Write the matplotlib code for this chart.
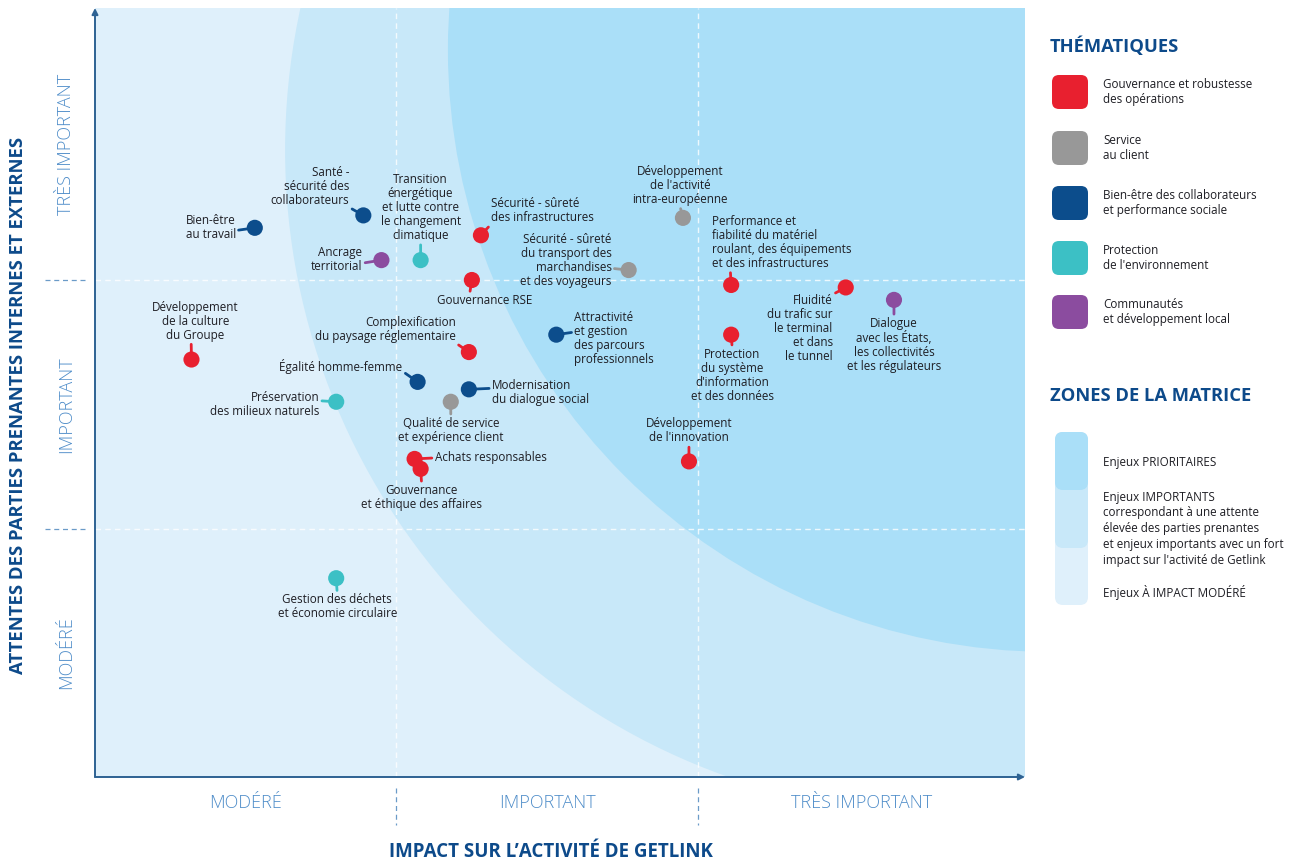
import matplotlib
matplotlib.use('Agg')
import matplotlib.pyplot as plt
from matplotlib.patches import Ellipse, FancyBboxPatch

plt.rcParams['font.family'] = ['Open Sans', 'DejaVu Sans']

# --- data -------------------------------------------------------------
themes = ['Gouvernance et robustesse\ndes opérations',
          'Service\nau client',
          'Bien-être des collaborateurs\net performance sociale',
          'Protection\nde l\'environnement',
          'Communautés\net développement local']
theme_colors = ['#e8202f', '#989898', '#0c4d8c', '#3cc0c5', '#8b4c9f']

enjeux = ['Bien-être\nau travail',
          'Santé -\nsécurité des\ncollaborateurs',
          'Transition\nénergétique\net lutte contre\nle changement\nclimatique',
          'Ancrage\nterritorial',
          'Sécurité - sûreté\ndes infrastructures',
          'Gouvernance RSE',
          'Développement\nde l\'activité\nintra-européenne',
          'Sécurité - sûreté\ndu transport des\nmarchandises\net des voyageurs',
          'Performance et\nfiabilité du matériel\nroulant, des équipements\net des infrastructures',
          'Fluidité\ndu trafic sur\nle terminal\net dans\nle tunnel',
          'Dialogue\navec les États,\nles collectivités\net les régulateurs',
          'Développement\nde la culture\ndu Groupe',
          'Complexification\ndu paysage réglementaire',
          'Attractivité\net gestion\ndes parcours\nprofessionnels',
          'Protection\ndu système\nd\'information\net des données',
          'Égalité homme-femme',
          'Modernisation\ndu dialogue social',
          'Qualité de service\net expérience client',
          'Préservation\ndes milieux naturels',
          'Achats responsables',
          'Gouvernance\net éthique des affaires',
          'Développement\nde l\'innovation',
          'Gestion des déchets\net économie circulaire']
theme_idx = [2, 2, 3, 4, 0, 0, 1, 1, 0, 0, 4, 0, 0, 2, 0, 2, 2, 1, 3, 0, 0, 0, 3]
impact = [0.53, 0.89, 1.08, 0.95, 1.28, 1.25, 1.95, 1.77, 2.11, 2.49, 2.65,
          0.32, 1.24, 1.53, 2.11, 1.07, 1.24, 1.18, 0.80, 1.06, 1.08, 1.97, 0.80]
attentes = [2.21, 2.26, 2.08, 2.08, 2.18, 2.00, 2.25, 2.04, 1.98, 1.97, 1.92,
            1.68, 1.71, 1.78, 1.78, 1.59, 1.56, 1.51, 1.51, 1.28, 1.24, 1.27, 0.80]

levels = ['MODÉRÉ', 'IMPORTANT', 'TRÈS IMPORTANT']
zones = ['Enjeux PRIORITAIRES', 'Enjeux IMPORTANTS', 'Enjeux À IMPACT MODÉRÉ']
zone_note = ('correspondant à une attente\nélevée des parties prenantes\n'
             'et enjeux importants avec un fort\nimpact sur l\'activité de Getlink')

# label placement: dx, dy (pixels), ha, va, leader anchor on text box
label_pos = [(-19, 0, 'right', 'center', (1, 0.4)),
             (-14, 8, 'right', 'bottom', (1, 0)),
             (0, 18, 'center', 'bottom', (0.5, 0)),
             (-19, 1, 'right', 'center', (1, 0.35)),
             (10, 11, 'left', 'bottom', (0, 0)),
             (13, -14, 'center', 'top', (0.34, 1)),
             (-3, 12, 'center', 'bottom', (0.5, 0)),
             (-17, 10, 'right', 'center', (1, 0.35)),
             (-19, 15, 'left', 'bottom', (0.13, 0)),
             (-13, -7, 'right', 'top', (1, 1)),
             (0, -17, 'center', 'top', (0.5, 1)),
             (4, 18, 'center', 'bottom', (0.45, 0)),
             (-13, 9, 'right', 'bottom', (1, 0)),
             (18, -4, 'left', 'center', (0, 0.62)),
             (1, -13, 'center', 'top', (0.5, 1)),
             (-15, 15, 'right', 'center', (1, 0.2)),
             (23, -3, 'left', 'center', (0, 0.65)),
             (0, -15, 'center', 'top', (0.5, 1)),
             (-17, -3, 'right', 'center', (1, 0.65)),
             (20, 1, 'left', 'center', (0, 0.5)),
             (1, -15, 'center', 'top', (0.5, 1)),
             (0, 17, 'center', 'bottom', (0.5, 0)),
             (1, -15, 'center', 'top', (0.5, 1))]

# --- figure -----------------------------------------------------------
W, H = 1296, 863
fig = plt.figure(figsize=(W / 100, H / 100), dpi=100)
fig.patch.set_facecolor('white')
ax = fig.add_axes([95 / W, 1 - 777 / H, 930 / W, 769 / H])
xmax, ymax = 930 / 301.5, 769 / 248.5
ax.set_xlim(0, xmax)
ax.set_ylim(0, ymax)
ax.set_facecolor('#dff0fb')
for s in ax.spines.values():
    s.set_visible(False)
ax.set_xticks([])
ax.set_yticks([])

# matrix zones
ax.add_patch(Ellipse((2.836, 2.523), 4.411, 5.352, color='#c8e8f9', lw=0, zorder=0.5))
ax.add_patch(Ellipse((3.167, 2.926), 3.993, 4.845, color='#aadff8', lw=0, zorder=0.6))

for v in (1, 2):
    ax.axvline(v, color='white', lw=1, ls=(0, (4, 3)), alpha=0.8, zorder=1)
    ax.axhline(v, color='white', lw=1, ls=(0, (4, 3)), alpha=0.8, zorder=1)

# axes arrows
arrow = dict(arrowstyle='-|>', color='#2e6293', lw=1.4, mutation_scale=9, shrinkA=0, shrinkB=0)
ax.annotate('', xy=(0, 1), xytext=(0, 0), xycoords='axes fraction', arrowprops=arrow, annotation_clip=False)
ax.annotate('', xy=(1, 0), xytext=(0, 0), xycoords='axes fraction', arrowprops=arrow, annotation_clip=False)

# points and labels
cols = [theme_colors[i] for i in theme_idx]
ax.scatter(impact, attentes, s=135, c=cols, lw=0, zorder=5)
for name, x, y, c, (dx, dy, ha, va, rp) in zip(enjeux, impact, attentes, cols, label_pos):
    ax.annotate(name, xy=(x, y), xytext=(dx, dy), textcoords='offset pixels',
                ha=ha, va=va, fontsize=8.4, color='#1e1e24', linespacing=1.1, zorder=4,
                arrowprops=dict(arrowstyle='-', color=c, lw=2, shrinkA=0, shrinkB=0, relpos=rp))

# level labels and separators
lab_col = '#4f8dc9'
centers = [0.5, 1.5, (2 + xmax) / 2]
for cx, t in zip(centers, levels):
    ax.text(cx, -0.034, t, transform=ax.get_xaxis_transform(), ha='center', va='center',
            fontsize=13, color=lab_col, fontweight='light')
ycenters = [0.5, 1.5, (2 + ymax) / 2]
for cy, t in zip(ycenters, levels):
    ax.text(-0.031, cy, t, transform=ax.get_yaxis_transform(), ha='center', va='center',
            rotation=90, fontsize=13, color=lab_col, fontweight='light')
for v in (1, 2):
    ax.plot([v, v], [-0.014, -0.062], transform=ax.get_xaxis_transform(), clip_on=False,
            color='#6b9bc8', lw=0.9, ls=(0, (4, 3)))
    ax.plot([-0.054, -0.011], [v, v], transform=ax.get_yaxis_transform(), clip_on=False,
            color='#6b9bc8', lw=0.9, ls=(0, (4, 3)))

# --- overlay in pixel coordinates for titles and legends --------------
ov = fig.add_axes([0, 0, 1, 1])
ov.set_xlim(0, W)
ov.set_ylim(H, 0)
ov.axis('off')
title_col = '#0d4a8a'
ov.text(551, 852, 'IMPACT SUR L\u2019ACTIVITÉ DE GETLINK', ha='center', va='center',
        fontsize=13.5, fontweight='bold', color=title_col)
ov.text(18, 405, 'ATTENTES DES PARTIES PRENANTES INTERNES ET EXTERNES', ha='center', va='center',
        rotation=90, fontsize=13.3, fontweight='bold', color=title_col)

ov.text(1050, 46, 'THÉMATIQUES', ha='left', va='center', fontsize=13.2, fontweight='bold', color=title_col)
sq_y = [92, 148, 203, 258, 312]
for t, c, yy in zip(themes, theme_colors, sq_y):
    ov.add_patch(FancyBboxPatch((1058, yy - 11), 24, 22, boxstyle='round,pad=6,rounding_size=7',
                                fc=c, ec='none'))
    ov.text(1103, yy, t, ha='left', va='center', fontsize=8.4, color='#1e1e24', linespacing=1.25)

ov.text(1050, 396, 'ZONES DE LA MATRICE', ha='left', va='center', fontsize=13.2, fontweight='bold', color=title_col)
bar = [(432, 605, '#dff0fb'), (432, 548, '#c8e8f9'), (432, 490, '#aadff8')]
for top, bot, c in bar:
    ov.add_patch(FancyBboxPatch((1062, top + 7), 19, bot - top - 14, boxstyle='round,pad=7,rounding_size=8',
                                fc=c, ec='none'))
ov.text(1103, 462, zones[0], ha='left', va='center', fontsize=8.4, color='#1e1e24')
ov.text(1103, 497, zones[1], ha='left', va='center', fontsize=8.4, color='#1e1e24')
ov.text(1103, 506, zone_note, ha='left', va='top', fontsize=8.4, color='#1e1e24', linespacing=1.3)
ov.text(1103, 592, zones[2], ha='left', va='center', fontsize=8.4, color='#1e1e24')

fig.savefig('out.png', dpi=100)
